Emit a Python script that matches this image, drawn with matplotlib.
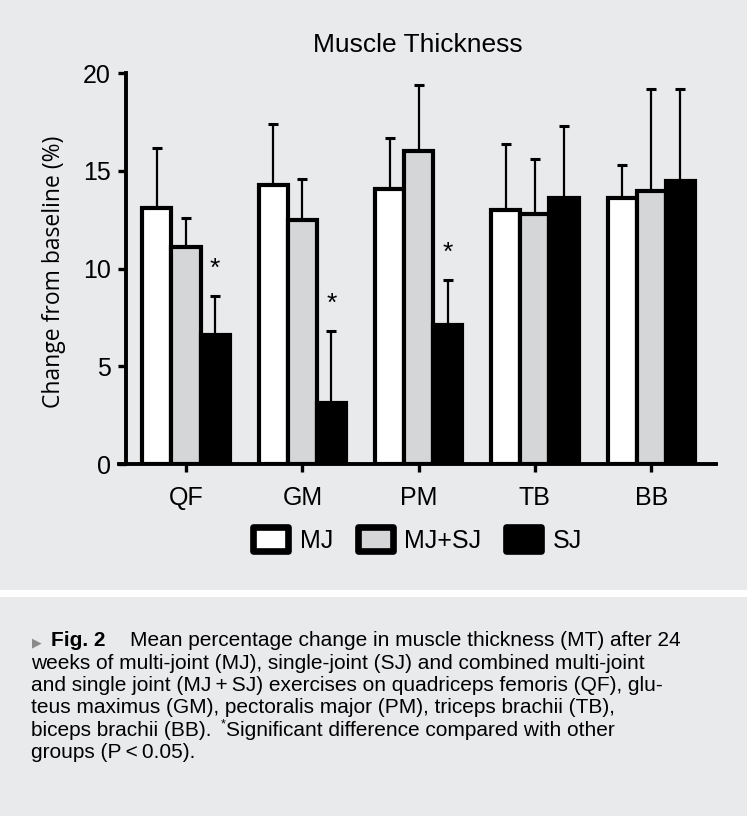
import matplotlib
matplotlib.use('Agg')
import matplotlib.pyplot as plt
from matplotlib import font_manager
from matplotlib.patches import Rectangle
import numpy as np

# data
muscles = ['QF', 'GM', 'PM', 'TB', 'BB']
groups = ['MJ', 'MJ+SJ', 'SJ']
mj = [13.1, 14.3, 14.1, 13.0, 13.6]
mj_err = [3.1, 3.1, 2.6, 3.4, 1.7]
mjsj = [11.1, 12.5, 16.0, 12.8, 14.0]
mjsj_err = [1.5, 2.1, 3.4, 2.8, 5.2]
sj = [6.6, 3.1, 7.1, 13.6, 14.5]
sj_err = [2.0, 3.7, 2.3, 3.7, 4.7]
signif_sj = [True, True, True, False, False]

caption_lines = [
    'weeks of multi-joint (MJ), single-joint (SJ) and combined multi-joint',
    'and single joint (MJ\u2009+\u2009SJ) exercises on quadriceps femoris (QF), glu-',
    'teus maximus (GM), pectoralis major (PM), triceps brachii (TB),',
]

names = {f.name for f in font_manager.fontManager.ttflist}
narrow = 'Liberation Sans Narrow' if 'Liberation Sans Narrow' in names else 'Liberation Sans'
fam = [narrow, 'DejaVu Sans']

bg = '#e9eaec'
W, H = 747, 816
fig = plt.figure(figsize=(W / 100, H / 100), dpi=100, facecolor='white')
fig.patches.append(Rectangle((0, 1 - 590 / H), 1, 590 / H, transform=fig.transFigure,
                             facecolor=bg, edgecolor='none', zorder=-10))
fig.patches.append(Rectangle((0, 0), 1, (H - 597) / H, transform=fig.transFigure,
                             facecolor=bg, edgecolor='none', zorder=-10))

ax = fig.add_axes([126 / W, 1 - 464 / H, (716 - 126) / W, (464 - 73.3) / H])
ax.set_facecolor('none')

x = np.arange(len(muscles))
w = 0.25
colors = ['white', '#d5d6d8', 'black']
vals = [mj, mjsj, sj]
errs = [mj_err, mjsj_err, sj_err]
handles = []
for i, (v, e, c, g) in enumerate(zip(vals, errs, colors, groups)):
    pos = x + (i - 1) * w
    ax.errorbar(pos, v, yerr=[np.zeros(len(v)), e], fmt='none', ecolor='black',
                elinewidth=1.6, capsize=3.5, capthick=2.2, zorder=1)
    b = ax.bar(pos, v, width=w, color=c, edgecolor='black', linewidth=3.0,
               label=g, zorder=2)
    handles.append(b)

for xi, v, e, s in zip(x, sj, sj_err, signif_sj):
    if s:
        ax.text(xi + w, v + e + 0.8, '*', ha='center', va='bottom',
                fontsize=19, family=fam)

ax.set_xlim(-0.516, 4.557)
ax.set_ylim(0, 20)
ax.set_yticks([0, 5, 10, 15, 20])
ax.set_xticks(x)
ax.set_xticklabels(muscles)
for sp in ['top', 'right']:
    ax.spines[sp].set_visible(False)
for sp in ['left', 'bottom']:
    ax.spines[sp].set_linewidth(2.8)
ax.spines['bottom'].set_bounds(-0.516 - 0.06, 4.557)
ax.tick_params(axis='both', width=2.4, length=6, labelsize=18, color='black')
ax.tick_params(axis='y', pad=5)
ax.tick_params(axis='x', pad=10)
for lab in ax.get_xticklabels() + ax.get_yticklabels():
    lab.set_family(fam)

fig.text(417.6 / W, 1 - 44.5 / H, 'Muscle Thickness', ha='center', va='center',
         fontsize=19, family=fam)
fig.text(54 / W, 1 - 272 / H, 'Change from baseline (%)', rotation=90,
         ha='center', va='center', fontsize=16.5, family=['Open Sans', 'DejaVu Sans'])

leg = fig.legend(handles=handles, labels=groups, loc='center',
                 bbox_to_anchor=(417.5 / W, 1 - 540 / H), ncol=3, frameon=False,
                 handlelength=1.4, handleheight=1.1, handletextpad=0.45,
                 columnspacing=1.0, prop={'family': fam, 'size': 18})
for p in leg.get_patches():
    p.set_linewidth(4.8)
    p.set_joinstyle('round')

# caption
cfs = 15
base = 646.5
step = 22.3
fig.canvas.draw()
r = fig.canvas.get_renderer()
fig.text(32 / W, 1 - base / H, '\u25B6', fontsize=9, color='#8a8a8a', va='baseline',
         family=['DejaVu Sans'])
fig.text(51 / W, 1 - base / H, 'Fig. 2', fontsize=cfs, weight='bold', va='baseline', family=fam)
fig.text(130 / W, 1 - base / H, 'Mean percentage change in muscle thickness (MT) after 24',
         fontsize=cfs, va='baseline', family=fam)
for k, line in enumerate(caption_lines):
    fig.text(31 / W, 1 - (base + step * (k + 1)) / H, line, fontsize=cfs,
             va='baseline', family=fam)
y5 = 1 - (base + step * 4) / H
t = fig.text(31 / W, y5, 'biceps brachii (BB).', fontsize=cfs, va='baseline', family=fam)
bb = t.get_window_extent(r)
xs = (bb.x1 + 9) / W
t2 = fig.text(xs, y5 + 8 / H, '*', fontsize=cfs * 0.6, va='baseline', family=fam)
bb2 = t2.get_window_extent(r)
fig.text((bb2.x1 + 1) / W, y5, 'Significant difference compared with other',
         fontsize=cfs, va='baseline', family=fam)
fig.text(31 / W, 1 - (base + step * 5) / H, 'groups (P\u2009<\u20090.05).', fontsize=cfs,
         va='baseline', family=fam)

fig.savefig('out.png', dpi=100, facecolor='white')
